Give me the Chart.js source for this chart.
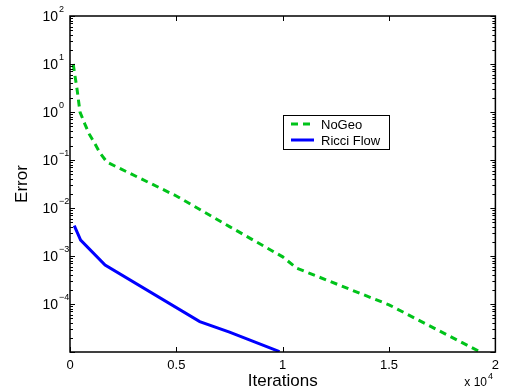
<!DOCTYPE html>
<html>
<head>
<meta charset="utf-8">
<script src="https://cdn.jsdelivr.net/npm/chart.js@4.4.1/dist/chart.umd.min.js"></script>
<style>
  html, body { margin: 0; padding: 0; background: #fff; }
  canvas { display: block; }
</style>
</head>
<body>
<canvas id="errChart" width="505" height="392"></canvas>
<script>
// Data (iterations, error)
const noGeoIter = [150, 330, 470, 700, 900, 1180, 1410, 1740, 5000, 7500, 10000, 10650, 15000, 19200];
const noGeoErr = [10, 3.0, 1.0, 0.56, 0.35, 0.215, 0.14, 0.09, 0.0178, 0.0041, 0.00096, 0.00056, 0.000096, 0.0000105];
const ricciIter = [200, 500, 1650, 6100, 7500, 9850];
const ricciErr = [0.0043, 0.00215, 0.00065, 0.000043, 0.000026, 0.0000102];

const xTicks = [0, 5000, 10000, 15000, 20000];
const yExponents = [2, 1, 0, -1, -2, -3, -4];

const FONT = '"Liberation Sans", Arial, sans-serif';

function toPoints(xs, ys) {
  return xs.map((x, i) => ({ x: x, y: ys[i] }));
}

function supLabel(ctx, base, exp, xRight, y, baseSize, expSize) {
  // "base" right-aligned ending at xRight, exponent raised after it
  ctx.font = baseSize + 'px ' + FONT;
  ctx.textAlign = 'right';
  ctx.textBaseline = 'middle';
  ctx.fillText(base, xRight, y);
  ctx.font = expSize + 'px ' + FONT;
  ctx.textAlign = 'left';
  ctx.fillText(exp, xRight + 1, y - baseSize * 0.5);
}

// Box, inward ticks, log tick labels, multiplier and legend, MATLAB style
const matlabAxes = {
  id: 'matlabAxes',
  afterDatasetsDraw(chart) {
    const ctx = chart.ctx;
    const a = chart.chartArea;
    const xs = chart.scales.x;
    const ys = chart.scales.y;
    ctx.save();
    ctx.strokeStyle = '#000';
    ctx.fillStyle = '#000';

    // frame
    ctx.lineWidth = 1.5;
    ctx.strokeRect(a.left, a.top, a.right - a.left, a.bottom - a.top);

    ctx.lineWidth = 1;
    ctx.beginPath();
    // x ticks, top and bottom
    xTicks.forEach(v => {
      const px = Math.round(xs.getPixelForValue(v)) + 0.5;
      ctx.moveTo(px, a.bottom); ctx.lineTo(px, a.bottom - 5);
      ctx.moveTo(px, a.top); ctx.lineTo(px, a.top + 5);
    });
    // y major + minor ticks, left and right
    for (let e = -5; e <= 2; e++) {
      const py = Math.round(ys.getPixelForValue(Math.pow(10, e))) + 0.5;
      ctx.moveTo(a.left, py); ctx.lineTo(a.left + 5, py);
      ctx.moveTo(a.right, py); ctx.lineTo(a.right - 5, py);
      if (e < 2) {
        for (let m = 2; m <= 9; m++) {
          const pm = Math.round(ys.getPixelForValue(m * Math.pow(10, e))) + 0.5;
          ctx.moveTo(a.left, pm); ctx.lineTo(a.left + 3, pm);
          ctx.moveTo(a.right, pm); ctx.lineTo(a.right - 3, pm);
        }
      }
    }
    ctx.stroke();

    // y tick labels 10^n
    yExponents.forEach(e => {
      const py = ys.getPixelForValue(Math.pow(10, e));
      const expText = e < 0 ? '\u2212' + (-e) : String(e);
      supLabel(ctx, '10', expText, a.left - 12, py + 1, 14, 9);
    });

    // x multiplier
    supLabel(ctx, 'x 10', '4', 487, 383, 12, 9);

    // legend
    const lx = 283, ly = 115, lw = 106, lh = 34;
    ctx.fillStyle = '#fff';
    ctx.fillRect(lx, ly, lw, lh);
    ctx.lineWidth = 1;
    ctx.strokeStyle = '#000';
    ctx.strokeRect(lx + 0.5, ly + 0.5, lw, lh);
    chart.data.datasets.forEach((ds, i) => {
      const y = ly + 9 + i * 16;
      ctx.save();
      ctx.strokeStyle = ds.borderColor;
      ctx.lineWidth = ds.borderWidth;
      ctx.setLineDash(ds.borderDash || []);
      ctx.beginPath();
      ctx.moveTo(lx + 8, y);
      ctx.lineTo(lx + 31, y);
      ctx.stroke();
      ctx.restore();
      ctx.fillStyle = '#000';
      ctx.font = '13px ' + FONT;
      ctx.textAlign = 'left';
      ctx.textBaseline = 'middle';
      ctx.fillText(ds.label, lx + 38, y + 1);
    });

    ctx.restore();
  }
};

new Chart(document.getElementById('errChart'), {
  type: 'line',
  data: {
    datasets: [{
      label: 'NoGeo',
      data: toPoints(noGeoIter, noGeoErr),
      borderColor: '#00c31a',
      borderWidth: 3,
      borderDash: [7, 5],
      pointRadius: 0,
      tension: 0,
      fill: false
    }, {
      label: 'Ricci Flow',
      data: toPoints(ricciIter, ricciErr),
      borderColor: '#0000ff',
      borderWidth: 3,
      pointRadius: 0,
      tension: 0,
      fill: false
    }]
  },
  options: {
    responsive: false,
    animation: false,
    layout: { padding: { top: 16, right: 9, left: 0, bottom: 0 } },
    plugins: {
      legend: { display: false },
      tooltip: { enabled: false }
    },
    scales: {
      x: {
        type: 'linear',
        min: 0,
        max: 20000,
        afterFit: function(scale) { scale.height = 40; },
        afterBuildTicks: function(scale) {
          scale.ticks = xTicks.map(v => ({ value: v }));
        },
        grid: { display: false, drawTicks: false },
        border: { display: false },
        ticks: {
          padding: 6,
          color: '#000',
          font: { family: FONT, size: 13 },
          maxRotation: 0,
          callback: function(value) { return String(value / 10000); }
        },
        title: {
          display: true,
          text: 'Iterations',
          color: '#000',
          font: { family: FONT, size: 17 },
          padding: { top: 0, bottom: 0 }
        }
      },
      y: {
        type: 'logarithmic',
        min: 1e-5,
        max: 100,
        afterFit: function(scale) { scale.width = 70; },
        grid: { display: false, drawTicks: false },
        border: { display: false },
        ticks: { display: false },
        title: {
          display: true,
          text: 'Error',
          color: '#000',
          font: { family: FONT, size: 17 },
          padding: { top: 12, bottom: 0 }
        }
      }
    }
  },
  plugins: [matlabAxes]
});
</script>
</body>
</html>
